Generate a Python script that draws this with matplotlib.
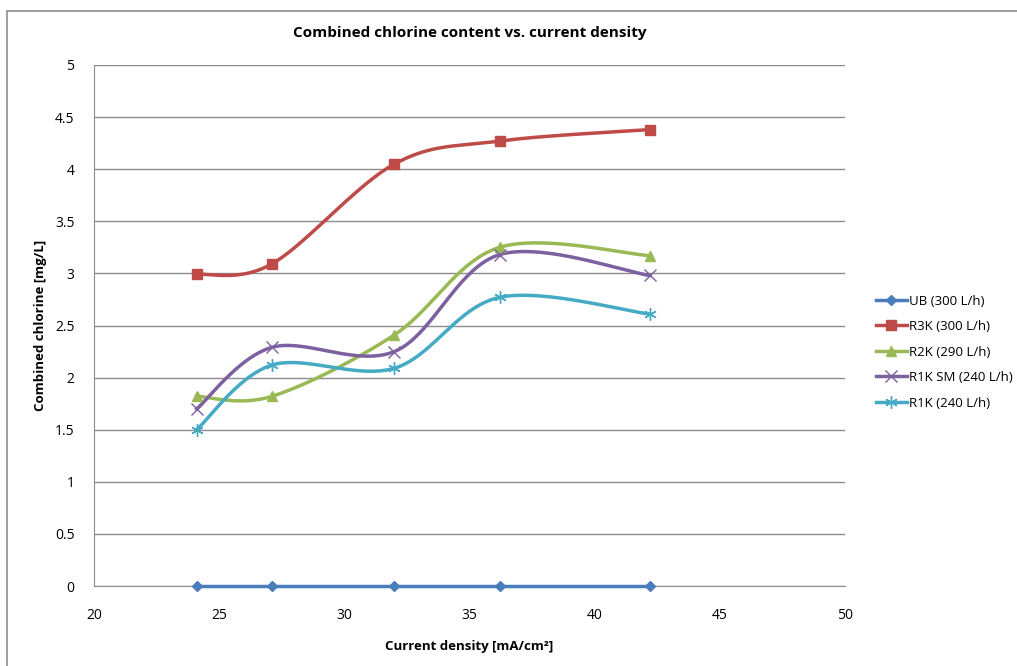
import numpy as np
import matplotlib.pyplot as plt
from matplotlib.patches import Rectangle

# data
current_density = [24.1, 27.1, 32.0, 36.2, 42.2]
ub_300 = [0.0, 0.0, 0.0, 0.0, 0.0]
r3k_300 = [2.99, 3.09, 4.05, 4.27, 4.38]
r2k_290 = [1.82, 1.82, 2.41, 3.25, 3.17]
r1k_sm_240 = [1.70, 2.29, 2.25, 3.18, 2.98]
r1k_240 = [1.50, 2.12, 2.09, 2.77, 2.61]

series_names = ["UB (300 L/h)", "R3K (300 L/h)", "R2K (290 L/h)",
                "R1K SM (240 L/h)", "R1K (240 L/h)"]
series_values = [ub_300, r3k_300, r2k_290, r1k_sm_240, r1k_240]
colors = ["#4A7EBB", "#BE4B48", "#98B954", "#7D60A0", "#46AAC5"]
markers = ["D", "s", "^", "x", (6, 2, 0)]
marker_sizes = [5.5, 7, 7, 8, 9]


def smooth(x, y, n=40):
    # Excel-like smoothed line (Catmull-Rom Bezier)
    x = np.asarray(x, float)
    y = np.asarray(y, float)
    px = np.concatenate([[x[0]], x, [x[-1]]])
    py = np.concatenate([[y[0]], y, [y[-1]]])
    xs, ys = [], []
    t = np.linspace(0, 1, n)
    for i in range(1, len(px) - 2):
        p0 = np.array([px[i], py[i]])
        p3 = np.array([px[i + 1], py[i + 1]])
        c1 = p0 + (np.array([px[i + 1], py[i + 1]]) - np.array([px[i - 1], py[i - 1]])) / 6
        c2 = p3 - (np.array([px[i + 2], py[i + 2]]) - np.array([px[i], py[i]])) / 6
        b = ((1 - t) ** 3)[:, None] * p0 + (3 * (1 - t) ** 2 * t)[:, None] * c1 \
            + (3 * (1 - t) * t ** 2)[:, None] * c2 + (t ** 3)[:, None] * p3
        xs.extend(b[:, 0])
        ys.extend(b[:, 1])
    return xs, ys


plt.rcParams['font.family'] = ['Open Sans', 'DejaVu Sans']

fig = plt.figure(figsize=(10.17, 6.66), dpi=100)
ax = fig.add_axes([94 / 1017, 1 - 586 / 666, (845 - 94) / 1017, (586 - 65) / 666])

# outer chart border
fig.patches.append(Rectangle((7 / 1017, -0.01), 1.0, 1 - 11 / 666 + 0.01,
                             transform=fig.transFigure, fill=False,
                             edgecolor="#8c8c8c", linewidth=1.2))

for name, vals, c, m, ms in zip(series_names, series_values, colors, markers, marker_sizes):
    sx, sy = smooth(current_density, vals)
    ax.plot(sx, sy, color=c, linewidth=2.5, zorder=3, clip_on=False)
    ax.plot(current_density, vals, linestyle="none", marker=m, markersize=ms,
            color=c, markeredgecolor=c, markeredgewidth=1.0, zorder=4, clip_on=False)
    ax.plot([], [], color=c, linewidth=2.5, marker=m, markersize=ms,
            markeredgecolor=c, markeredgewidth=1.0, label=name)

ax.set_xlim(20, 50)
ax.set_ylim(0, 5)
ax.set_xticks(np.arange(20, 51, 5))
ax.set_yticks(np.arange(0, 5.01, 0.5))
ax.set_yticklabels(["0", "0.5", "1", "1.5", "2", "2.5", "3", "3.5", "4", "4.5", "5"])
ax.grid(axis="y", color="#8c8c8c", linewidth=1)
ax.set_axisbelow(True)
for s in ["top", "right"]:
    ax.spines[s].set_visible(False)
ax.spines["left"].set_color("#8c8c8c")
ax.spines["bottom"].set_color("#8c8c8c")
ax.tick_params(length=0, labelsize=10, pad=14)
ax.tick_params(axis="x", pad=16)

ax.set_title("Combined chlorine content vs. current density", fontsize=11,
             fontweight="bold", pad=20)
ax.set_xlabel("Current density [mA/cm²]", fontsize=9.5, fontweight="bold", labelpad=12)
ax.set_ylabel("Combined chlorine [mg/L]", fontsize=9.5, fontweight="bold", labelpad=6)

ax.legend(loc="center left", bbox_to_anchor=(1.025, 0.449), frameon=False,
          fontsize=9.5, handlelength=2.4, labelspacing=0.95, handletextpad=0.1)

fig.savefig("out.png", dpi=100)
